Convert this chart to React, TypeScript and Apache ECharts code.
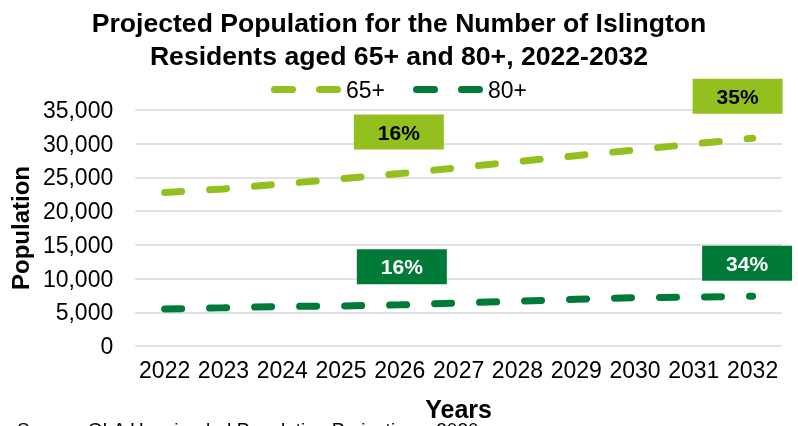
import React, { useEffect, useRef } from "react";
import * as echarts from "echarts";

const years = ["2022", "2023", "2024", "2025", "2026", "2027", "2028", "2029", "2030", "2031", "2032"];
const pop65 = [22750, 23300, 24050, 24800, 25580, 26450, 27350, 28220, 29080, 29970, 30820];
const pop80 = [5480, 5660, 5860, 5930, 6100, 6380, 6640, 6930, 7180, 7240, 7380];
const seriesNames = ["65+", "80+"];
const notes65 = [{ idx: 4, text: "16%" }, { idx: 10, text: "35%" }];
const notes80 = [{ idx: 4, text: "16%" }, { idx: 10, text: "34%" }];
const titleText = "Projected Population for the Number of Islington\nResidents aged 65+ and 80+, 2022-2032";
const sourceText = "Source: GLA Housing-led Population Projections, 2020";

const LIGHT = "#93C01F";
const DARK = "#007A37";
const FONT = "'Liberation Sans', Arial, sans-serif";
const LEGEND_ICON =
  "path://M3.5,0H21.5A3.5,3.5,0,0,1,21.5,7H3.5A3.5,3.5,0,0,1,3.5,0ZM48.5,0H66.5A3.5,3.5,0,0,1,66.5,7H48.5A3.5,3.5,0,0,1,48.5,0Z";

export default function App() {
  const ref = useRef<HTMLDivElement>(null);
  useEffect(() => {
    if (!ref.current) return;
    const chart = echarts.init(ref.current, null, { renderer: "svg" });
    const offsets65 = [[-1, -41.5], [-15, -42]];
    const offsets80 = [[2, -38], [-5.5, -33]];
    const mk = (notes: any[], data: number[], offs: number[][], color: string, txt: string) => ({
      symbol: "rect",
      symbolSize: [90, 35],
      silent: true,
      data: notes.map((n, i) => ({
        coord: [years[n.idx], data[n.idx]],
        symbolOffset: offs[i],
        itemStyle: { color },
        label: {
          show: true,
          position: "inside",
          formatter: n.text,
          color: txt,
          fontSize: 21,
          fontWeight: "bold",
          fontFamily: FONT,
        },
      })),
    });
    chart.setOption({
      animation: false,
      textStyle: { fontFamily: FONT },
      title: {
        text: titleText,
        left: "center",
        top: 1,
        textStyle: { fontSize: 26.6, fontWeight: "bold", color: "#000", lineHeight: 33, fontFamily: FONT },
      },
      legend: {
        data: seriesNames.map((n) => ({ name: n, icon: LEGEND_ICON })),
        top: 73,
        left: "center",
        itemWidth: 70,
        itemHeight: 7,
        itemGap: 28,
        textStyle: { fontSize: 23, color: "#000", fontFamily: FONT },
      },
      grid: { left: 130, right: 16, top: 110, bottom: 80, containLabel: false },
      xAxis: {
        type: "category",
        data: years,
        boundaryGap: true,
        name: "Years",
        nameLocation: "middle",
        nameGap: 50,
        nameTextStyle: { fontSize: 25, fontWeight: "bold", color: "#000", fontFamily: FONT },
        axisLine: { show: false },
        axisTick: { show: false },
        axisLabel: { fontSize: 23, color: "#000", margin: 12, fontFamily: FONT, interval: 0 },
      },
      yAxis: {
        type: "value",
        min: 0,
        max: 35000,
        interval: 5000,
        name: "Population",
        nameLocation: "middle",
        nameGap: 100,
        nameTextStyle: { fontSize: 24, fontWeight: "bold", color: "#000", fontFamily: FONT },
        axisLabel: {
          fontSize: 23,
          color: "#000",
          margin: 22,
          fontFamily: FONT,
          formatter: (v: number) => v.toLocaleString("en-US"),
        },
        splitLine: { lineStyle: { color: "#D9D9D9", width: 1.5 } },
      },
      series: [
        {
          name: seriesNames[0],
          type: "line",
          data: pop65,
          symbol: "none",
          color: LIGHT,
          lineStyle: { color: LIGHT, width: 7, type: [17, 28], cap: "round" },
          markPoint: mk(notes65, pop65, offsets65, LIGHT, "#000"),
        },
        {
          name: seriesNames[1],
          type: "line",
          data: pop80,
          symbol: "none",
          color: DARK,
          lineStyle: { color: DARK, width: 7, type: [17, 28], cap: "round" },
          markPoint: mk(notes80, pop80, offsets80, DARK, "#fff"),
        },
      ],
      graphic: [
        {
          type: "text",
          left: 17,
          top: 420,
          style: { text: sourceText, fontSize: 19, fill: "#000", fontFamily: FONT },
        },
      ],
    });
    return () => chart.dispose();
  }, []);
  return <div ref={ref} style={{ position: "fixed", left: 0, top: 0, width: 798, height: 426 }} />;
}
